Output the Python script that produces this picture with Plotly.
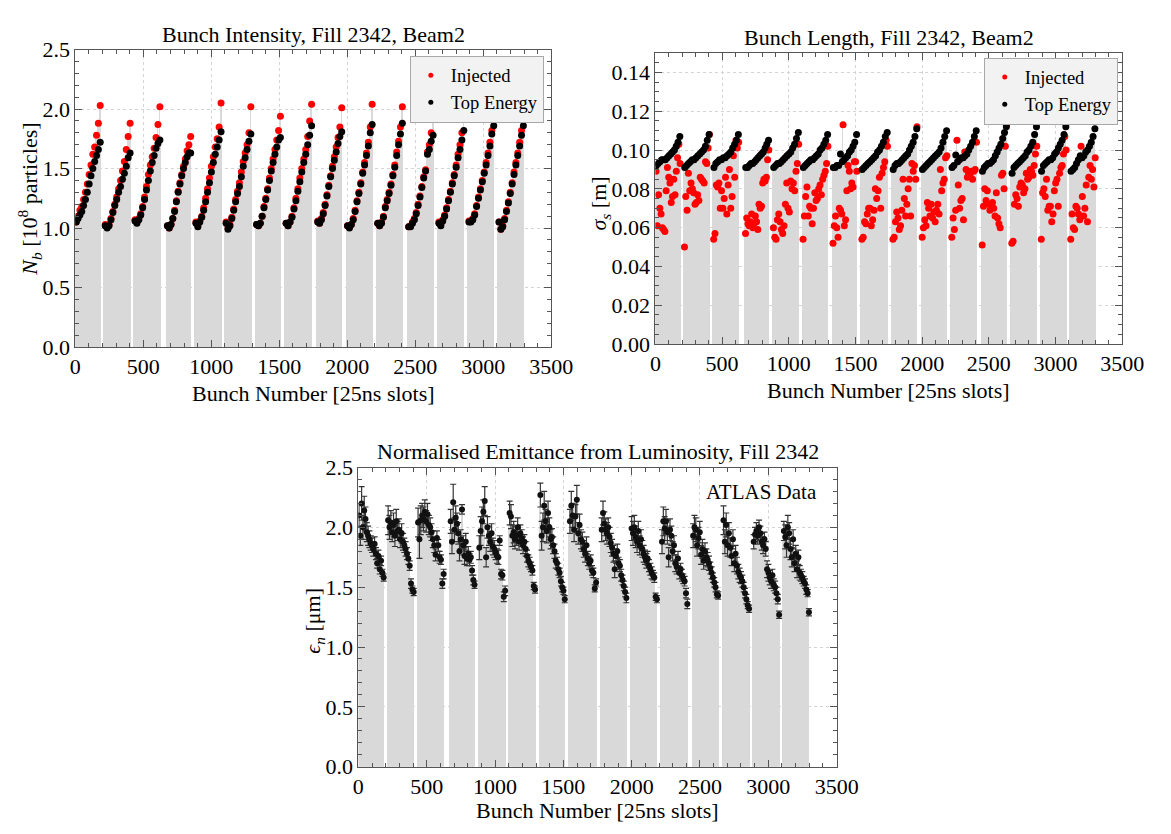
import plotly.graph_objects as go

FONT = "Liberation Serif"
GREY = "#d9d9d9"

# ---- bunch-train layout (25ns slots) ----
TRAIN_START = [0, 213, 432, 671, 880, 1102, 1327, 1543, 1776, 1995, 2217, 2445, 2667, 2888, 3109]
TRAIN_END = [190, 410, 629, 855, 1079, 1298, 1515, 1745, 1966, 2190, 2412, 2638, 2864, 3084, 3302]

# ---- Bunch intensity [1e8 particles], per train ----
INTENSITY_INJECTED = [
    [1.05, 1.10, 1.15, 1.18, 1.24, 1.30, 1.37, 1.45, 1.53, 1.62, 1.68, 1.78, 1.88, 2.03],
    [1.03, 1.01, 1.03, 1.08, 1.14, 1.20, 1.26, 1.33, 1.40, 1.48, 1.56, 1.66, 1.77, 1.88],
    [1.07, 1.05, 1.08, 1.12, 1.18, 1.26, 1.35, 1.45, 1.53, 1.60, 1.67, 1.76, 1.87, 2.02],
    [1.02, 1.00, 1.03, 1.08, 1.15, 1.23, 1.31, 1.38, 1.45, 1.52, 1.58, 1.65, 1.70, 1.77],
    [1.05, 1.02, 1.06, 1.10, 1.17, 1.25, 1.33, 1.42, 1.52, 1.60, 1.68, 1.75, 1.85, 2.05],
    [1.05, 1.00, 1.03, 1.09, 1.16, 1.24, 1.31, 1.38, 1.47, 1.56, 1.63, 1.70, 1.80, 2.02],
    [1.03, 1.02, 1.04, 1.10, 1.18, 1.25, 1.33, 1.42, 1.50, 1.58, 1.66, 1.74, 1.82, 1.94],
    [1.04, 1.02, 1.05, 1.10, 1.17, 1.25, 1.33, 1.42, 1.50, 1.58, 1.66, 1.77, 1.90, 2.04],
    [1.06, 1.04, 1.08, 1.13, 1.20, 1.28, 1.36, 1.44, 1.52, 1.60, 1.68, 1.76, 1.85, 2.01],
    [1.02, 1.01, 1.03, 1.08, 1.15, 1.23, 1.30, 1.38, 1.47, 1.55, 1.63, 1.72, 1.85, 2.04],
    [1.04, 1.02, 1.05, 1.10, 1.18, 1.24, 1.30, 1.37, 1.45, 1.53, 1.64, 1.73, 1.85, 2.02],
    [1.01, 1.02, 1.05, 1.08, 1.13, 1.20, 1.27, 1.35, 1.43, 1.49, 1.64, 1.70, 1.80, 1.92],
    [1.05, 1.03, 1.07, 1.11, 1.17, 1.24, 1.31, 1.38, 1.45, 1.53, 1.62, 1.70, 1.80, 1.92],
    [1.06, 1.06, 1.08, 1.12, 1.19, 1.26, 1.33, 1.40, 1.47, 1.55, 1.63, 1.72, 1.82, 1.95],
    [1.05, 0.99, 1.02, 1.08, 1.15, 1.22, 1.30, 1.38, 1.47, 1.55, 1.63, 1.72, 1.82, 1.93],
]
INTENSITY_TOP = [
    [1.05, 1.08, 1.11, 1.14, 1.19, 1.24, 1.30, 1.37, 1.44, 1.50, 1.56, 1.61, 1.66, 1.72],
    [1.02, 1.00, 1.02, 1.07, 1.13, 1.19, 1.24, 1.30, 1.35, 1.41, 1.46, 1.52, 1.59, 1.63],
    [1.06, 1.04, 1.07, 1.11, 1.17, 1.24, 1.32, 1.40, 1.48, 1.55, 1.61, 1.67, 1.71, 1.74],
    [1.02, 1.00, 1.03, 1.08, 1.14, 1.22, 1.30, 1.37, 1.44, 1.50, 1.55, 1.60, 1.63, 1.63],
    [1.04, 1.01, 1.05, 1.09, 1.15, 1.22, 1.30, 1.38, 1.47, 1.55, 1.62, 1.68, 1.74, 1.81],
    [1.04, 0.99, 1.02, 1.08, 1.15, 1.22, 1.29, 1.35, 1.43, 1.52, 1.59, 1.66, 1.73, 1.79],
    [1.03, 1.02, 1.04, 1.10, 1.17, 1.24, 1.32, 1.40, 1.48, 1.55, 1.62, 1.68, 1.74, 1.76],
    [1.04, 1.02, 1.05, 1.09, 1.16, 1.23, 1.31, 1.39, 1.47, 1.55, 1.62, 1.70, 1.78, 1.86],
    [1.05, 1.04, 1.07, 1.12, 1.19, 1.27, 1.35, 1.43, 1.50, 1.57, 1.64, 1.71, 1.77, 1.81],
    [1.02, 1.00, 1.03, 1.07, 1.14, 1.22, 1.29, 1.37, 1.46, 1.53, 1.61, 1.69, 1.80, 1.87],
    [1.04, 1.02, 1.04, 1.09, 1.17, 1.23, 1.29, 1.36, 1.44, 1.51, 1.61, 1.70, 1.79, 1.88],
    [1.01, 1.01, 1.04, 1.07, 1.12, 1.19, 1.26, 1.34, 1.42, 1.48, 1.62, 1.66, 1.73, 1.78],
    [1.04, 1.02, 1.06, 1.10, 1.16, 1.23, 1.30, 1.37, 1.44, 1.51, 1.59, 1.66, 1.74, 1.82],
    [1.05, 1.05, 1.07, 1.11, 1.18, 1.25, 1.32, 1.39, 1.46, 1.53, 1.61, 1.69, 1.79, 1.86],
    [1.05, 0.99, 1.01, 1.07, 1.14, 1.21, 1.29, 1.37, 1.45, 1.53, 1.61, 1.69, 1.78, 1.86],
]

# ---- Bunch length sigma_s [m], per train ----
LENGTH_INJECTED = [
    [0.089, 0.061, 0.077, 0.070, 0.067, 0.060, 0.059, 0.058, 0.079, 0.091, 0.086, 0.083, 0.073, 0.076, 0.085, 0.077, 0.089, 0.096, 0.103, 0.093],
    [0.050, 0.076, 0.069, 0.088, 0.079, 0.083, 0.080, 0.078, 0.072, 0.073, 0.077, 0.074, 0.086, 0.085, 0.084, 0.083, 0.094, 0.093, 0.101, 0.108],
    [0.054, 0.057, 0.082, 0.081, 0.083, 0.070, 0.079, 0.070, 0.075, 0.086, 0.067, 0.082, 0.090, 0.070, 0.076, 0.097, 0.086, 0.105, 0.101, 0.104],
    [0.057, 0.065, 0.062, 0.061, 0.063, 0.067, 0.060, 0.062, 0.066, 0.063, 0.059, 0.072, 0.070, 0.071, 0.083, 0.085, 0.084, 0.086, 0.095, 0.100],
    [0.060, 0.055, 0.054, 0.064, 0.067, 0.063, 0.059, 0.057, 0.061, 0.072, 0.083, 0.070, 0.068, 0.084, 0.080, 0.083, 0.079, 0.089, 0.093, 0.103],
    [0.054, 0.066, 0.076, 0.081, 0.066, 0.071, 0.070, 0.062, 0.070, 0.078, 0.074, 0.075, 0.080, 0.082, 0.077, 0.085, 0.087, 0.089, 0.093, 0.102],
    [0.052, 0.061, 0.066, 0.060, 0.055, 0.070, 0.069, 0.067, 0.113, 0.061, 0.064, 0.079, 0.092, 0.089, 0.080, 0.083, 0.081, 0.094, 0.094, 0.089],
    [0.054, 0.055, 0.063, 0.062, 0.067, 0.070, 0.070, 0.061, 0.064, 0.069, 0.080, 0.075, 0.079, 0.086, 0.070, 0.088, 0.091, 0.094, 0.105, 0.102],
    [0.054, 0.055, 0.063, 0.068, 0.065, 0.059, 0.061, 0.069, 0.085, 0.075, 0.066, 0.072, 0.080, 0.085, 0.066, 0.093, 0.089, 0.092, 0.085, 0.112],
    [0.055, 0.060, 0.064, 0.061, 0.073, 0.070, 0.066, 0.072, 0.065, 0.068, 0.063, 0.069, 0.072, 0.067, 0.090, 0.079, 0.083, 0.085, 0.096, 0.097],
    [0.055, 0.065, 0.059, 0.069, 0.105, 0.082, 0.070, 0.074, 0.075, 0.064, 0.099, 0.090, 0.086, 0.088, 0.087, 0.089, 0.085, 0.089, 0.090, 0.104],
    [0.051, 0.071, 0.080, 0.074, 0.079, 0.072, 0.069, 0.071, 0.073, 0.070, 0.066, 0.078, 0.065, 0.062, 0.060, 0.087, 0.088, 0.080, 0.102, 0.113],
    [0.052, 0.053, 0.072, 0.077, 0.075, 0.071, 0.081, 0.083, 0.082, 0.078, 0.080, 0.088, 0.085, 0.086, 0.090, 0.089, 0.087, 0.092, 0.098, 0.102],
    [0.054, 0.078, 0.080, 0.076, 0.085, 0.069, 0.071, 0.071, 0.063, 0.067, 0.079, 0.083, 0.085, 0.071, 0.088, 0.091, 0.092, 0.098, 0.107, 0.100],
    [0.054, 0.067, 0.060, 0.059, 0.071, 0.070, 0.067, 0.064, 0.102, 0.076, 0.066, 0.070, 0.082, 0.063, 0.086, 0.092, 0.085, 0.090, 0.081, 0.096],
]
LENGTH_TOP = [
    [0.092, 0.093, 0.094, 0.095, 0.095, 0.095, 0.096, 0.097, 0.098, 0.099, 0.100, 0.102, 0.104, 0.107],
    [0.091, 0.092, 0.093, 0.094, 0.095, 0.095, 0.096, 0.097, 0.098, 0.099, 0.100, 0.102, 0.105, 0.108],
    [0.091, 0.093, 0.094, 0.095, 0.095, 0.096, 0.096, 0.097, 0.098, 0.099, 0.101, 0.103, 0.105, 0.108],
    [0.091, 0.091, 0.092, 0.093, 0.093, 0.094, 0.095, 0.096, 0.097, 0.098, 0.099, 0.101, 0.103, 0.105],
    [0.091, 0.092, 0.093, 0.093, 0.094, 0.095, 0.096, 0.097, 0.098, 0.099, 0.101, 0.103, 0.106, 0.109],
    [0.091, 0.092, 0.093, 0.094, 0.095, 0.095, 0.096, 0.097, 0.098, 0.100, 0.101, 0.103, 0.105, 0.108],
    [0.091, 0.091, 0.092, 0.092, 0.098, 0.094, 0.095, 0.096, 0.097, 0.099, 0.100, 0.102, 0.104, 0.108],
    [0.090, 0.091, 0.092, 0.093, 0.094, 0.095, 0.096, 0.097, 0.099, 0.100, 0.102, 0.104, 0.107, 0.109],
    [0.090, 0.092, 0.093, 0.093, 0.094, 0.095, 0.096, 0.097, 0.098, 0.100, 0.102, 0.104, 0.107, 0.111],
    [0.090, 0.091, 0.092, 0.093, 0.094, 0.095, 0.096, 0.097, 0.098, 0.099, 0.101, 0.104, 0.107, 0.110],
    [0.091, 0.092, 0.0975, 0.094, 0.095, 0.096, 0.096, 0.097, 0.098, 0.100, 0.102, 0.104, 0.107, 0.110],
    [0.089, 0.091, 0.092, 0.093, 0.093, 0.094, 0.095, 0.097, 0.099, 0.101, 0.103, 0.106, 0.109, 0.112],
    [0.088, 0.091, 0.092, 0.093, 0.094, 0.095, 0.096, 0.097, 0.099, 0.100, 0.102, 0.104, 0.108, 0.112],
    [0.089, 0.092, 0.093, 0.094, 0.095, 0.095, 0.096, 0.098, 0.099, 0.101, 0.103, 0.105, 0.108, 0.112],
    [0.089, 0.090, 0.091, 0.093, 0.095, 0.097, 0.096, 0.097, 0.099, 0.100, 0.102, 0.104, 0.107, 0.111],
]

# ---- Normalised emittance [um] and its uncertainty, per train ----
EMITTANCE = [
    [2.10, 1.93, 2.20, 2.00, 2.14, 2.07, 1.96, 1.93, 1.90, 1.87, 1.85, 1.82, 1.86, 1.78, 1.70, 1.76, 1.65, 1.72, 1.62, 1.58],
    [2.06, 2.00, 2.04, 1.96, 2.02, 1.93, 2.05, 1.97, 1.98, 1.90, 1.95, 1.88, 1.85, 1.82, 1.78, 1.74, 1.68, 1.53, 1.48, 1.46],
    [2.04, 1.90, 2.06, 2.10, 2.07, 2.13, 2.05, 2.11, 2.02, 2.00, 1.96, 1.90, 1.85, 1.77, 1.91, 1.85, 1.75, 1.73, 1.53, 1.61],
    [2.05, 1.88, 2.21, 1.98, 2.08, 2.03, 1.95, 1.80, 1.90, 2.15, 1.85, 1.76, 1.88, 1.74, 1.78, 1.73, 1.75, 1.64, 1.56, 1.52],
    [1.83, 1.97, 2.05, 2.13, 2.22, 1.75, 2.00, 1.93, 1.88, 1.95, 1.84, 1.82, 1.79, 1.76, 1.75, 1.89, 1.61, 1.60, 1.42, 1.47],
    [2.12, 2.09, 1.93, 1.96, 1.90, 1.93, 2.00, 1.88, 1.95, 1.91, 1.85, 1.88, 1.82, 1.76, 1.72, 1.70, 1.67, 1.64, 1.51, 1.48],
    [2.27, 1.93, 2.00, 2.18, 2.05, 1.97, 2.12, 2.00, 1.90, 1.92, 1.85, 1.80, 1.72, 1.70, 1.65, 1.62, 1.55, 1.50, 1.47, 1.40],
    [2.05, 2.18, 2.10, 1.98, 2.09, 2.23, 1.95, 2.02, 1.90, 1.88, 1.82, 1.78, 1.85, 1.74, 1.70, 1.72, 1.64, 1.62, 1.49, 1.54],
    [1.98, 2.12, 2.03, 1.98, 1.95, 2.00, 1.92, 1.87, 1.83, 1.78, 1.65, 1.76, 1.80, 1.70, 1.68, 1.60, 1.56, 1.51, 1.46, 1.41],
    [1.99, 1.95, 2.00, 1.92, 1.88, 1.97, 1.85, 1.90, 1.82, 1.78, 1.75, 1.72, 1.74, 1.68, 1.65, 1.62, 1.60, 1.58, 1.42, 1.40],
    [1.88, 2.05, 1.99, 2.05, 1.96, 1.75, 1.98, 1.93, 1.80, 1.85, 1.70, 1.67, 1.74, 1.62, 1.65, 1.60, 1.57, 1.55, 1.45, 1.36],
    [1.93, 2.00, 1.98, 1.85, 1.91, 1.96, 1.77, 1.82, 1.72, 1.80, 1.75, 1.73, 1.70, 1.66, 1.62, 1.58, 1.54, 1.50, 1.44, 1.43],
    [2.06, 1.88, 2.02, 1.85, 1.95, 1.83, 1.76, 1.90, 1.70, 1.78, 1.68, 1.63, 1.60, 1.58, 1.55, 1.50, 1.45, 1.40, 1.35, 1.32],
    [1.88, 1.94, 1.97, 1.93, 2.00, 1.95, 1.88, 1.85, 1.90, 1.82, 1.65, 1.62, 1.58, 1.55, 1.60, 1.52, 1.50, 1.45, 1.40, 1.27],
    [1.97, 1.92, 1.85, 2.00, 1.95, 1.82, 1.75, 1.90, 1.70, 1.78, 1.65, 1.75, 1.62, 1.60, 1.58, 1.55, 1.53, 1.48, 1.45, 1.29],
]
EMITTANCE_ERR = [
    [0.10, 0.08, 0.14, 0.10, 0.12, 0.10, 0.08, 0.08, 0.07, 0.06, 0.06, 0.06, 0.06, 0.05, 0.04, 0.05, 0.04, 0.04, 0.03, 0.03],
    [0.12, 0.10, 0.10, 0.08, 0.10, 0.09, 0.10, 0.08, 0.09, 0.07, 0.08, 0.07, 0.06, 0.06, 0.05, 0.05, 0.04, 0.04, 0.03, 0.03],
    [0.12, 0.16, 0.12, 0.10, 0.10, 0.10, 0.09, 0.09, 0.08, 0.08, 0.07, 0.07, 0.06, 0.05, 0.06, 0.05, 0.05, 0.04, 0.04, 0.04],
    [0.10, 0.10, 0.15, 0.10, 0.10, 0.09, 0.09, 0.08, 0.08, 0.04, 0.08, 0.07, 0.07, 0.06, 0.06, 0.05, 0.05, 0.04, 0.04, 0.03],
    [0.10, 0.12, 0.12, 0.10, 0.12, 0.08, 0.09, 0.08, 0.08, 0.08, 0.07, 0.07, 0.06, 0.06, 0.06, 0.04, 0.04, 0.04, 0.04, 0.04],
    [0.10, 0.10, 0.09, 0.09, 0.08, 0.08, 0.08, 0.07, 0.07, 0.07, 0.07, 0.06, 0.06, 0.05, 0.05, 0.05, 0.04, 0.04, 0.03, 0.03],
    [0.10, 0.12, 0.12, 0.12, 0.10, 0.10, 0.10, 0.08, 0.08, 0.07, 0.07, 0.06, 0.06, 0.05, 0.05, 0.04, 0.04, 0.04, 0.03, 0.03],
    [0.10, 0.12, 0.10, 0.10, 0.10, 0.12, 0.09, 0.09, 0.08, 0.08, 0.07, 0.07, 0.07, 0.06, 0.05, 0.05, 0.04, 0.04, 0.03, 0.03],
    [0.10, 0.10, 0.10, 0.09, 0.09, 0.08, 0.08, 0.08, 0.07, 0.07, 0.07, 0.06, 0.06, 0.05, 0.05, 0.05, 0.04, 0.04, 0.04, 0.04],
    [0.10, 0.10, 0.10, 0.09, 0.09, 0.08, 0.08, 0.08, 0.07, 0.07, 0.06, 0.06, 0.06, 0.05, 0.05, 0.05, 0.04, 0.04, 0.03, 0.03],
    [0.10, 0.12, 0.10, 0.10, 0.10, 0.08, 0.09, 0.08, 0.08, 0.08, 0.07, 0.06, 0.06, 0.05, 0.05, 0.05, 0.04, 0.04, 0.04, 0.04],
    [0.10, 0.10, 0.10, 0.09, 0.09, 0.09, 0.08, 0.08, 0.07, 0.07, 0.07, 0.06, 0.06, 0.05, 0.05, 0.04, 0.04, 0.04, 0.03, 0.03],
    [0.12, 0.10, 0.10, 0.09, 0.09, 0.08, 0.08, 0.08, 0.07, 0.07, 0.07, 0.06, 0.06, 0.05, 0.05, 0.04, 0.04, 0.04, 0.03, 0.03],
    [0.06, 0.06, 0.07, 0.07, 0.06, 0.06, 0.07, 0.07, 0.06, 0.06, 0.07, 0.07, 0.06, 0.06, 0.05, 0.05, 0.05, 0.05, 0.04, 0.03],
    [0.08, 0.10, 0.10, 0.10, 0.09, 0.09, 0.08, 0.08, 0.07, 0.07, 0.07, 0.06, 0.06, 0.05, 0.05, 0.04, 0.04, 0.04, 0.03, 0.03],
]

X_TICKS = [0, 500, 1000, 1500, 2000, 2500, 3000, 3500]


def positions(per_train):
    """Bunch slot of every listed bunch: evenly spaced inside its train."""
    xs, ws = [], []
    for s, e, vals in zip(TRAIN_START, TRAIN_END, per_train):
        step = (e - s) / len(vals)
        xs += [s + (i + 0.5) * step for i in range(len(vals))]
        ws += [step] * len(vals)
    return xs, ws


def flat(per_train):
    return [v for t in per_train for v in t]


fig = go.Figure()


def legend_entry(name, color, xa, ya, leg):
    # legend-only entry with a small dot, like the reference legend
    fig.add_trace(go.Scatter(x=[None], y=[None], mode="markers", name=name,
                             marker=dict(color=color, size=5), xaxis=xa, yaxis=ya,
                             legend=leg, showlegend=True, hoverinfo="skip"))


# ---------- top-left: intensity ----------
xi, wi = positions(INTENSITY_TOP)
fig.add_trace(go.Bar(x=xi, y=flat(INTENSITY_TOP), width=wi, marker=dict(color=GREY, line=dict(width=0)),
                     xaxis="x", yaxis="y", showlegend=False, hoverinfo="skip"))
fig.add_trace(go.Bar(x=xi, y=flat(INTENSITY_INJECTED), width=[5] * len(xi), marker=dict(color=GREY, line=dict(width=0)),
                     xaxis="x", yaxis="y", showlegend=False, hoverinfo="skip"))
fig.add_trace(go.Scatter(x=xi, y=flat(INTENSITY_INJECTED), mode="markers", name="Injected", showlegend=False,
                         marker=dict(color="#ff0000", size=7), xaxis="x", yaxis="y", hoverinfo="skip"))
fig.add_trace(go.Scatter(x=xi, y=flat(INTENSITY_TOP), mode="markers", name="Top Energy", showlegend=False,
                         marker=dict(color="#000000", size=7), xaxis="x", yaxis="y", hoverinfo="skip"))
legend_entry("Injected", "#ff0000", "x", "y", "legend")
legend_entry("Top Energy", "#000000", "x", "y", "legend")

# ---------- top-right: bunch length ----------
xlt, wlt = positions(LENGTH_TOP)
xli, wli = positions(LENGTH_INJECTED)
fig.add_trace(go.Bar(x=xlt, y=flat(LENGTH_TOP), width=wlt, marker=dict(color=GREY, line=dict(width=0)),
                     xaxis="x2", yaxis="y2", showlegend=False, hoverinfo="skip"))
fig.add_trace(go.Bar(x=xli, y=flat(LENGTH_INJECTED), width=[5] * len(xli), marker=dict(color=GREY, line=dict(width=0)),
                     xaxis="x2", yaxis="y2", showlegend=False, hoverinfo="skip"))
fig.add_trace(go.Scatter(x=xli, y=flat(LENGTH_INJECTED), mode="markers", name="Injected", showlegend=False,
                         marker=dict(color="#ff0000", size=7), xaxis="x2", yaxis="y2", hoverinfo="skip"))
fig.add_trace(go.Scatter(x=xlt, y=flat(LENGTH_TOP), mode="markers", name="Top Energy", showlegend=False,
                         marker=dict(color="#000000", size=7), xaxis="x2", yaxis="y2", hoverinfo="skip"))
legend_entry("Injected", "#ff0000", "x2", "y2", "legend2")
legend_entry("Top Energy", "#000000", "x2", "y2", "legend2")

# ---------- bottom: emittance ----------
xe, we = positions(EMITTANCE)
emit = flat(EMITTANCE)
emit_err = flat(EMITTANCE_ERR)
fig.add_trace(go.Bar(x=xe, y=[v - e for v, e in zip(emit, emit_err)], width=we,
                     marker=dict(color=GREY, line=dict(width=0)),
                     xaxis="x3", yaxis="y3", showlegend=False, hoverinfo="skip"))
fig.add_trace(go.Scatter(x=xe, y=emit, mode="markers", showlegend=False, hoverinfo="skip",
                         marker=dict(color="#111111", size=6),
                         error_y=dict(type="data", array=emit_err, color="#333333", thickness=1.2, width=3),
                         xaxis="x3", yaxis="y3"))

axis_common = dict(
    showline=True, linecolor="#555555", linewidth=1, mirror="ticks",
    ticks="inside", ticklen=7, tickcolor="#555555", tickwidth=1,
    showgrid=True, gridcolor="#d4d4d4", griddash="3px,3px", gridwidth=1,
    zeroline=False, tickfont=dict(family=FONT, size=22, color="black"),
)
xaxis_common = dict(axis_common, range=[0, 3500], tickmode="array", tickvals=X_TICKS,
                    minor=dict(dtick=100, tick0=0, ticks="inside", ticklen=4, tickcolor="#555555", showgrid=False))
y_emit_like = dict(axis_common, range=[0, 2.5], dtick=0.5, tick0=0, tickformat=".1f",
                   minor=dict(dtick=0.1, tick0=0, ticks="inside", ticklen=4, tickcolor="#555555", showgrid=False))

W, H = 1171, 834
legend_common = dict(xanchor="right", yanchor="top", bgcolor="#f2f2f2", bordercolor="#a8a8a8", borderwidth=1,
                     font=dict(family=FONT, size=18.5, color="black"), tracegroupgap=0, itemwidth=30)

fig.update_layout(
    width=W, height=H, autosize=False,
    margin=dict(l=0, r=0, t=0, b=0),
    paper_bgcolor="white", plot_bgcolor="white",
    barmode="overlay", bargap=0,
    font=dict(family=FONT, color="black"),
    xaxis=dict(xaxis_common, domain=[71 / W, 558.6 / W], anchor="y"),
    yaxis=dict(y_emit_like, domain=[1 - 345.4 / H, 1 - 38.7 / H], anchor="x"),
    xaxis2=dict(xaxis_common, domain=[665.3 / W, 1143.6 / W], anchor="y2"),
    yaxis2=dict(axis_common, domain=[1 - 342.3 / H, 1 - 42.3 / H], anchor="x2",
                range=[0, 0.15], dtick=0.02, tick0=0, tickformat=".2f",
                minor=dict(dtick=0.005, tick0=0, ticks="inside", ticklen=4, tickcolor="#555555", showgrid=False)),
    xaxis3=dict(xaxis_common, domain=[361 / W, 851 / W], anchor="y3"),
    yaxis3=dict(y_emit_like, domain=[1 - 778 / H, 1 - 469.6 / H], anchor="x3"),
    legend=dict(legend_common, x=551 / W, y=1 - 45 / H),
    legend2=dict(legend_common, x=1139 / W, y=1 - 47 / H),
)

ann = []


def text(x, y, s, size=22, angle=0):
    ann.append(dict(x=x / W, y=1 - y / H, xref="paper", yref="paper", text=s, showarrow=False,
                    xanchor="center", yanchor="middle", textangle=angle,
                    font=dict(family=FONT, size=size, color="black")))


text(314.8, 23, "Bunch Intensity, Fill 2342, Beam2")
text(904.5, 26, "Bunch Length, Fill 2342, Beam2")
text(606, 453, "Normalised Emittance from Luminosity, Fill 2342")
text(314.8, 393, "Bunch Number [25ns slots]")
text(904.5, 390, "Bunch Number [25ns slots]")
text(606, 823, "Bunch Number [25ns slots]")
text(24.5, 192.5, "<i>N</i><sub><i>b</i></sub> [10<sup>8</sup> particles]", angle=-90)
text(609, 197, "<i>σ</i><sub><i>s</i></sub> [m]", angle=-90)
text(316, 627, "<i>ϵ</i><sub><i>n</i></sub> [μm]", angle=-90)
text(773.7, 495, "ATLAS Data", size=21)
fig.update_layout(annotations=ann)

fig.write_html("out.html", config={"displayModeBar": False},
               post_script="document.body.style.margin='0';document.body.style.overflow='hidden';")
